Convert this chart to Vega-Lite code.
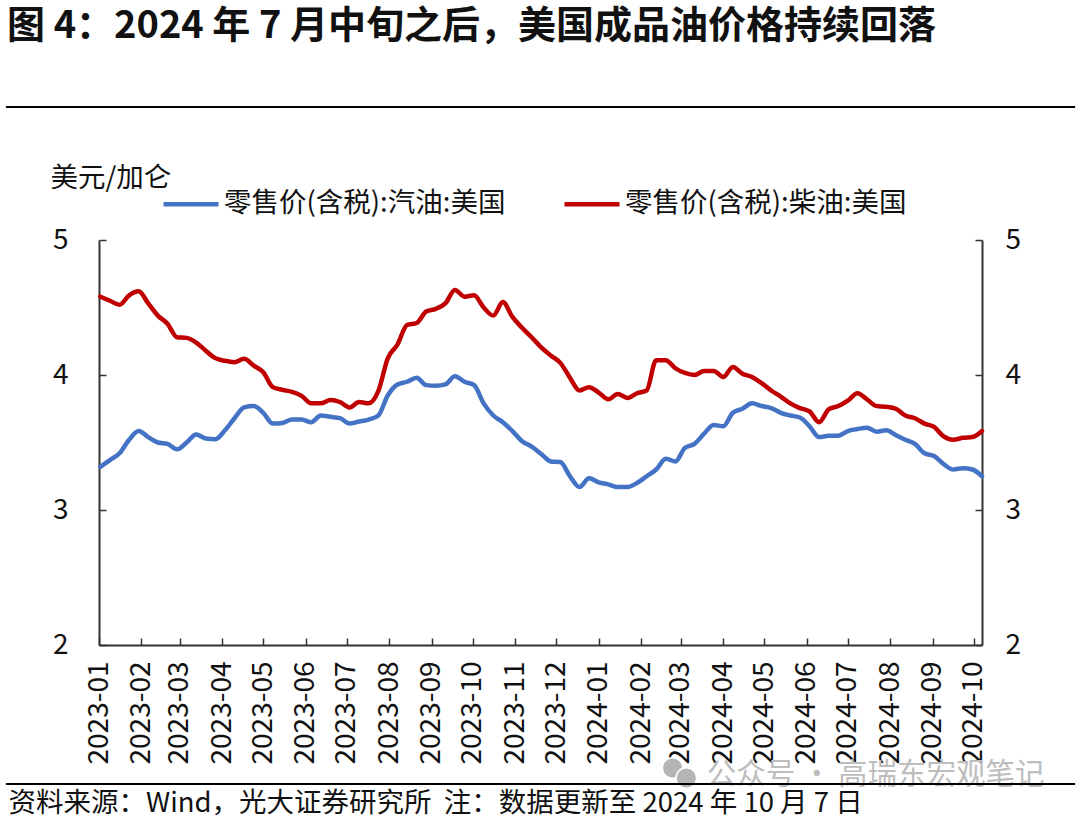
{
  "$schema": "https://vega.github.io/schema/vega-lite/v6.json",
  "description": "US gasoline and diesel retail prices, weekly, 2023-01 to 2024-10.",
  "autosize": {"type": "none"},
  "padding": {"left": 99, "top": 240, "right": 98, "bottom": 175},
  "width": 883,
  "height": 405,
  "background": "white",
  "title": {
    "text": "图 4：2024 年 7 月中旬之后，美国成品油价格持续回落",
    "anchor": "start",
    "frame": "group",
    "dx": -92,
    "offset": 60,
    "font": "Noto Sans CJK SC",
    "fontSize": 38,
    "fontWeight": "bold",
    "color": "#111111"
  },
  "datasets": {
    "prices": [
      {"date": "2023-01-02", "gasoline": 3.32, "diesel": 4.58},
      {"date": "2023-01-09", "gasoline": 3.37, "diesel": 4.55},
      {"date": "2023-01-16", "gasoline": 3.42, "diesel": 4.52},
      {"date": "2023-01-23", "gasoline": 3.52, "diesel": 4.59},
      {"date": "2023-01-30", "gasoline": 3.585, "diesel": 4.62},
      {"date": "2023-02-06", "gasoline": 3.54, "diesel": 4.53},
      {"date": "2023-02-13", "gasoline": 3.5, "diesel": 4.44},
      {"date": "2023-02-20", "gasoline": 3.49, "diesel": 4.38},
      {"date": "2023-02-27", "gasoline": 3.45, "diesel": 4.28},
      {"date": "2023-03-06", "gasoline": 3.5, "diesel": 4.275},
      {"date": "2023-03-13", "gasoline": 3.56, "diesel": 4.24},
      {"date": "2023-03-20", "gasoline": 3.53, "diesel": 4.18},
      {"date": "2023-03-27", "gasoline": 3.525, "diesel": 4.125},
      {"date": "2023-04-03", "gasoline": 3.59, "diesel": 4.105},
      {"date": "2023-04-10", "gasoline": 3.68, "diesel": 4.095},
      {"date": "2023-04-17", "gasoline": 3.76, "diesel": 4.12},
      {"date": "2023-04-24", "gasoline": 3.77, "diesel": 4.07},
      {"date": "2023-05-01", "gasoline": 3.72, "diesel": 4.02},
      {"date": "2023-05-08", "gasoline": 3.64, "diesel": 3.91},
      {"date": "2023-05-15", "gasoline": 3.645, "diesel": 3.89},
      {"date": "2023-05-22", "gasoline": 3.67, "diesel": 3.875},
      {"date": "2023-05-29", "gasoline": 3.67, "diesel": 3.845},
      {"date": "2023-06-05", "gasoline": 3.65, "diesel": 3.79},
      {"date": "2023-06-12", "gasoline": 3.7, "diesel": 3.79},
      {"date": "2023-06-19", "gasoline": 3.69, "diesel": 3.815},
      {"date": "2023-06-26", "gasoline": 3.68, "diesel": 3.8},
      {"date": "2023-07-03", "gasoline": 3.64, "diesel": 3.76},
      {"date": "2023-07-10", "gasoline": 3.655, "diesel": 3.8},
      {"date": "2023-07-17", "gasoline": 3.67, "diesel": 3.79},
      {"date": "2023-07-24", "gasoline": 3.7, "diesel": 3.88},
      {"date": "2023-07-31", "gasoline": 3.85, "diesel": 4.125},
      {"date": "2023-08-07", "gasoline": 3.93, "diesel": 4.225},
      {"date": "2023-08-14", "gasoline": 3.95, "diesel": 4.37},
      {"date": "2023-08-21", "gasoline": 3.98, "diesel": 4.385},
      {"date": "2023-08-28", "gasoline": 3.925, "diesel": 4.47},
      {"date": "2023-09-04", "gasoline": 3.92, "diesel": 4.49},
      {"date": "2023-09-11", "gasoline": 3.93, "diesel": 4.53},
      {"date": "2023-09-18", "gasoline": 3.99, "diesel": 4.63},
      {"date": "2023-09-25", "gasoline": 3.95, "diesel": 4.58},
      {"date": "2023-10-02", "gasoline": 3.925, "diesel": 4.59},
      {"date": "2023-10-09", "gasoline": 3.79, "diesel": 4.5},
      {"date": "2023-10-16", "gasoline": 3.7, "diesel": 4.44},
      {"date": "2023-10-23", "gasoline": 3.65, "diesel": 4.54},
      {"date": "2023-10-30", "gasoline": 3.585, "diesel": 4.43},
      {"date": "2023-11-06", "gasoline": 3.51, "diesel": 4.35},
      {"date": "2023-11-13", "gasoline": 3.47, "diesel": 4.28},
      {"date": "2023-11-20", "gasoline": 3.415, "diesel": 4.205},
      {"date": "2023-11-27", "gasoline": 3.36, "diesel": 4.145},
      {"date": "2023-12-04", "gasoline": 3.355, "diesel": 4.09},
      {"date": "2023-12-11", "gasoline": 3.25, "diesel": 3.98},
      {"date": "2023-12-18", "gasoline": 3.17, "diesel": 3.885},
      {"date": "2023-12-25", "gasoline": 3.235, "diesel": 3.91},
      {"date": "2024-01-01", "gasoline": 3.205, "diesel": 3.87},
      {"date": "2024-01-08", "gasoline": 3.19, "diesel": 3.82},
      {"date": "2024-01-15", "gasoline": 3.17, "diesel": 3.86},
      {"date": "2024-01-22", "gasoline": 3.17, "diesel": 3.83},
      {"date": "2024-01-29", "gasoline": 3.2, "diesel": 3.865},
      {"date": "2024-02-05", "gasoline": 3.25, "diesel": 3.885},
      {"date": "2024-02-12", "gasoline": 3.3, "diesel": 4.11},
      {"date": "2024-02-19", "gasoline": 3.38, "diesel": 4.11},
      {"date": "2024-02-26", "gasoline": 3.36, "diesel": 4.05},
      {"date": "2024-03-04", "gasoline": 3.46, "diesel": 4.015},
      {"date": "2024-03-11", "gasoline": 3.49, "diesel": 4.0},
      {"date": "2024-03-18", "gasoline": 3.565, "diesel": 4.03},
      {"date": "2024-03-25", "gasoline": 3.63, "diesel": 4.03},
      {"date": "2024-04-01", "gasoline": 3.62, "diesel": 3.985},
      {"date": "2024-04-08", "gasoline": 3.72, "diesel": 4.06},
      {"date": "2024-04-15", "gasoline": 3.75, "diesel": 4.01},
      {"date": "2024-04-22", "gasoline": 3.79, "diesel": 3.985},
      {"date": "2024-04-29", "gasoline": 3.77, "diesel": 3.94},
      {"date": "2024-05-06", "gasoline": 3.755, "diesel": 3.885},
      {"date": "2024-05-13", "gasoline": 3.72, "diesel": 3.84},
      {"date": "2024-05-20", "gasoline": 3.7, "diesel": 3.79},
      {"date": "2024-05-27", "gasoline": 3.685, "diesel": 3.755},
      {"date": "2024-06-03", "gasoline": 3.62, "diesel": 3.73},
      {"date": "2024-06-10", "gasoline": 3.54, "diesel": 3.65},
      {"date": "2024-06-17", "gasoline": 3.55, "diesel": 3.745},
      {"date": "2024-06-24", "gasoline": 3.55, "diesel": 3.77},
      {"date": "2024-07-01", "gasoline": 3.585, "diesel": 3.81},
      {"date": "2024-07-08", "gasoline": 3.6, "diesel": 3.865},
      {"date": "2024-07-15", "gasoline": 3.61, "diesel": 3.82},
      {"date": "2024-07-22", "gasoline": 3.58, "diesel": 3.77},
      {"date": "2024-07-29", "gasoline": 3.59, "diesel": 3.765},
      {"date": "2024-08-05", "gasoline": 3.555, "diesel": 3.75},
      {"date": "2024-08-12", "gasoline": 3.52, "diesel": 3.7},
      {"date": "2024-08-19", "gasoline": 3.49, "diesel": 3.68},
      {"date": "2024-08-26", "gasoline": 3.42, "diesel": 3.64},
      {"date": "2024-09-02", "gasoline": 3.4, "diesel": 3.615},
      {"date": "2024-09-09", "gasoline": 3.34, "diesel": 3.545},
      {"date": "2024-09-16", "gasoline": 3.3, "diesel": 3.52},
      {"date": "2024-09-23", "gasoline": 3.31, "diesel": 3.535},
      {"date": "2024-09-30", "gasoline": 3.3, "diesel": 3.54},
      {"date": "2024-10-07", "gasoline": 3.25, "diesel": 3.585}
    ],
    "rules": [
      {"date": "2022-10-25", "end": "2024-12-14", "level": 5.985},
      {"date": "2022-10-25", "end": "2024-12-14", "level": 0.97}
    ],
    "watermark": [
      {"date": "2024-03-20", "level": 1.037, "label": "公众号 · 高瑞东宏观笔记"}
    ],
    "icon": [
      {"date": "2024-02-24", "level": 1.089},
      {"date": "2024-03-05", "level": 1.015}
    ]
  },
  "encoding": {
    "x": {
      "field": "date",
      "type": "temporal",
      "scale": {"type": "utc", "domain": ["2023-01-01", "2024-10-07"]},
      "axis": {
        "tickCount": {"interval": "month", "step": 1},
        "format": "%Y-%m",
        "labelAngle": 270,
        "labelAlign": "right",
        "labelBaseline": "middle",
        "labelPadding": 23,
        "labelOverlap": false,
        "labelFlush": false,
        "tickSize": -7,
        "grid": false,
        "title": "资料来源：Wind，光大证券研究所\u00a0\u00a0注：数据更新至 2024 年 10 月 7 日",
        "titleX": -91,
        "titleY": 158,
        "titleAlign": "left",
        "titleBaseline": "middle",
        "titleFontSize": 27.5,
        "titleFontWeight": "normal"
      }
    }
  },
  "layer": [
    {
      "data": {"name": "prices"},
      "mark": {"type": "line", "interpolate": "monotone", "strokeWidth": 4.5, "strokeCap": "round"},
      "encoding": {
        "y": {
          "field": "gasoline",
          "type": "quantitative",
          "scale": {"domain": [2, 5]},
          "axis": {
            "orient": "left",
            "values": [2, 3, 4, 5],
            "format": "d",
            "tickSize": -7,
            "labelPadding": 38,
            "grid": false,
            "title": "美元/加仑",
            "titleAngle": 0,
            "titleX": -49,
            "titleY": -62,
            "titleAlign": "left",
            "titleBaseline": "middle",
            "titleFontSize": 27.5,
            "titleFontWeight": "normal"
          }
        },
        "color": {
          "datum": "零售价(含税):汽油:美国",
          "type": "nominal",
          "scale": {
            "domain": ["零售价(含税):汽油:美国", "零售价(含税):柴油:美国"],
            "range": ["#4472C4", "#C00000"]
          },
          "legend": {
            "title": null,
            "orient": "none",
            "legendX": 62,
            "legendY": -66,
            "direction": "horizontal",
            "columns": 2,
            "columnPadding": 49,
            "symbolType": "stroke",
            "symbolSize": 3025,
            "symbolStrokeWidth": 4.5,
            "labelFontSize": 27.5,
            "labelLimit": 400,
            "labelOffset": 3,
            "labelColor": "#111111",
            "labelFont": "Noto Sans CJK SC"
          }
        }
      }
    },
    {
      "data": {"name": "prices"},
      "mark": {"type": "line", "interpolate": "monotone", "strokeWidth": 4.5, "strokeCap": "round"},
      "encoding": {
        "y": {
          "field": "diesel",
          "type": "quantitative",
          "scale": {"domain": [2, 5]},
          "axis": {
            "orient": "right",
            "values": [2, 3, 4, 5],
            "format": "d",
            "tickSize": -7,
            "labelPadding": 30,
            "grid": false,
            "title": null
          }
        },
        "color": {"datum": "零售价(含税):柴油:美国", "type": "nominal"}
      }
    },
    {
      "data": {"name": "icon"},
      "mark": {"type": "circle", "size": 420, "color": "#b5b5b5", "opacity": 1, "stroke": "white", "strokeWidth": 1.5},
      "encoding": {
        "y": {"field": "level", "type": "quantitative", "scale": {"domain": [2, 5]}, "axis": null}
      }
    },
    {
      "data": {"name": "watermark"},
      "mark": {"type": "text", "align": "left", "baseline": "middle", "font": "Noto Sans CJK SC", "fontSize": 29.5, "color": "#bdbdbd"},
      "encoding": {
        "y": {"field": "level", "type": "quantitative", "scale": {"domain": [2, 5]}, "axis": null},
        "text": {"field": "label"}
      }
    },
    {
      "data": {"name": "rules"},
      "mark": {"type": "rule", "color": "#000000", "strokeWidth": 2},
      "encoding": {
        "x2": {"field": "end"},
        "y": {"field": "level", "type": "quantitative", "scale": {"domain": [2, 5]}, "axis": null}
      }
    }
  ],
  "resolve": {"scale": {"y": "independent"}},
  "config": {
    "font": "Noto Sans CJK SC",
    "view": {"stroke": null},
    "axis": {
      "domainColor": "#333333",
      "domainWidth": 2,
      "tickColor": "#333333",
      "tickWidth": 1.5,
      "labelFont": "Noto Sans CJK SC",
      "labelFontSize": 28,
      "labelColor": "#111111",
      "titleFont": "Noto Sans CJK SC",
      "titleColor": "#111111"
    }
  }
}
